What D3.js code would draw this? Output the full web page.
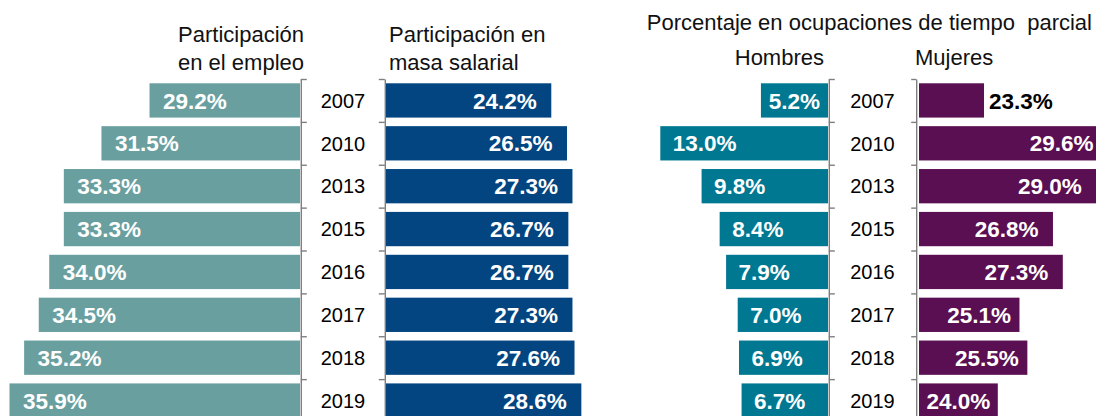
<!DOCTYPE html>
<html>
<head>
<meta charset="utf-8">
<script src="https://cdn.jsdelivr.net/npm/d3@7"></script>
<style>
  body { margin: 0; background: #fff; }
  svg { display: block; font-family: "Liberation Sans", Arial, sans-serif; }
</style>
</head>
<body>
<svg width="1096" height="416"></svg>
<script>
(function () {
    'use strict';

    // data
    var years = ['2007', '2010', '2013', '2015', '2016', '2017', '2018', '2019'];
    var empleo = [29.2, 31.5, 33.3, 33.3, 34.0, 34.5, 35.2, 35.9];
    var masaSalarial = [24.2, 26.5, 27.3, 26.7, 26.7, 27.3, 27.6, 28.6];
    var hombres = [5.2, 13.0, 9.8, 8.4, 7.9, 7.0, 6.9, 6.7];
    var mujeres = [23.3, 29.6, 29.0, 26.8, 27.3, 25.1, 25.5, 24.0];

    var svg = d3.select('svg');
    var fmt = function (v) { return d3.format('.1f')(v) + '%'; };

    var y = d3.scaleBand()
        .domain(years)
        .range([79, 422])
        .paddingInner(0.2)
        .paddingOuter(0.1);

    // boundaries between the categories, for the tick marks
    var yEdge = d3.scaleLinear().domain([0, years.length]).range([79, 422]);

    // one scale per panel
    var xEmpleo = d3.scaleLinear().domain([22, 36]).range([300, 300 - 14 * 20.9]);
    var xMasa = d3.scaleLinear().domain([0, 30]).range([386, 386 + 30 * 6.83]);
    var xHom = d3.scaleLinear().domain([0, 14]).range([828, 828 - 14 * 12.9]);
    var xMuj = d3.scaleLinear().domain([20, 30]).range([919, 919 + 10 * 19.7]);

    function panel(values, x, color, dir, insetFn) {
        var g = svg.append('g');
        var x0 = x.range()[0];
        g.selectAll('rect')
            .data(values)
            .enter().append('rect')
            .attr('x', function (d) { return dir < 0 ? x(d) : x0; })
            .attr('y', function (d, i) { return y(years[i]); })
            .attr('width', function (d) { return Math.abs(x(d) - x0); })
            .attr('height', y.bandwidth())
            .attr('fill', color);

        g.selectAll('text')
            .data(values)
            .enter().append('text')
            .attr('y', function (d, i) { return y(years[i]) + y.bandwidth() / 2; })
            .attr('dy', '0.36em')
            .attr('font-size', 22.5)
            .attr('font-weight', 'bold')
            .attr('fill', '#fff')
            .text(fmt)
            .each(function (d) {
                var t = d3.select(this);
                var tw = this.getComputedTextLength();
                var bw = Math.abs(x(d) - x0);
                var end = x(d);
                if (tw + 4 > bw) {
                    // does not fit, put it outside the bar end
                    t.attr('fill', '#000')
                        .attr('text-anchor', dir > 0 ? 'start' : 'end')
                        .attr('x', end + dir * 5);
                    return;
                }
                var inset = Math.min(insetFn(bw), (bw - tw) / 2);
                // label sits at the outer end of the bar
                t.attr('text-anchor', dir > 0 ? 'end' : 'start')
                    .attr('x', end - dir * inset);
            });
        return g;
    }

    panel(empleo, xEmpleo, '#6a9fa0', -1, function () { return 13.5; });
    panel(masaSalarial, xMasa, '#034580', 1, function () { return 14.5; });
    panel(hombres, xHom, '#007891', -1, function () { return 12.5; });
    panel(mujeres, xMuj, '#5a0f52', 1, function (bw) { return bw < 120 ? 8.5 : 14.5; });

    // category axes: vertical line with ticks at band edges
    function catAxis(xPos, side, size) {
        var ax = (side === 'right' ? d3.axisRight(yEdge) : d3.axisLeft(yEdge))
            .tickValues(d3.range(0, years.length + 1))
            .tickFormat('')
            .tickSize(size)
            .tickSizeOuter(0);
        var g = svg.append('g')
            .attr('transform', 'translate(' + xPos + ',0)')
            .call(ax);
        g.selectAll('path, line')
            .attr('stroke', '#7f7f7f')
            .attr('stroke-width', 1.4);
        return g;
    }
    catAxis(300.8, 'right', 6);
    catAxis(384.8, 'left', 6);
    catAxis(828.8, 'right', 6);
    catAxis(916.2, 'left', 5);

    // year labels
    function yearLabels(cx) {
        svg.append('g').selectAll('text')
            .data(years)
            .enter().append('text')
            .attr('x', cx)
            .attr('y', function (d) { return y(d) + y.bandwidth() / 2; })
            .attr('dy', '0.36em')
            .attr('text-anchor', 'middle')
            .attr('font-size', 20)
            .attr('fill', '#000')
            .text(function (d) { return d; });
    }
    yearLabels(343);
    yearLabels(872.5);

    // headers
    function header(lines, x, y0, anchor) {
        var t = svg.append('text')
            .attr('x', x)
            .attr('y', y0)
            .attr('text-anchor', anchor)
            .attr('font-size', 22)
            .attr('fill', '#111')
            .style('white-space', 'pre');
        lines.forEach(function (l, i) {
            t.append('tspan')
                .attr('x', x)
                .attr('dy', i === 0 ? 0 : 28.5)
                .text(l);
        });
    }
    header(['Participación', 'en el empleo'], 304, 41.5, 'end');
    header(['Participación en', 'masa salarial'], 389, 41.5, 'start');
    header(['Porcentaje en ocupaciones de tiempo  parcial'], 1092, 30, 'end');
    header(['Hombres'], 824, 65, 'end');
    header(['Mujeres'], 915, 65, 'start');

}());
</script>
</body>
</html>
